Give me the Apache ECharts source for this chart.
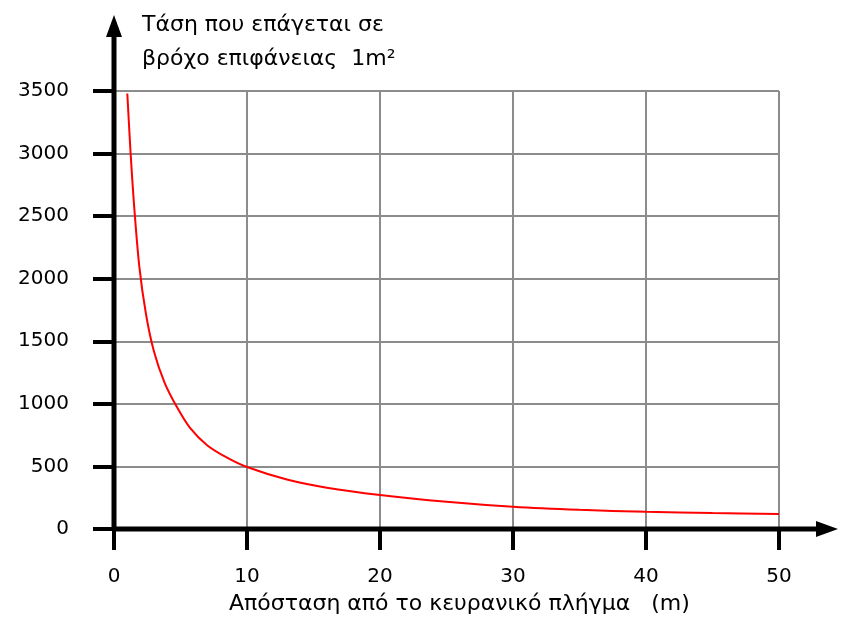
<!DOCTYPE html>
<html>
<head>
<meta charset="utf-8">
<script src="https://cdn.jsdelivr.net/npm/echarts@6/dist/echarts.min.js"></script>
<style>
  html, body { margin: 0; padding: 0; background: #fff; }
  #chart { width: 844px; height: 625px; }
</style>
</head>
<body>
<div id="chart"></div>
<script>
// απόσταση (m) και τάση που διαβάστηκαν από την εικόνα
const distance = [1, 1.25, 1.5, 1.9, 2.4, 3, 3.8, 4.7, 5.7, 7, 8.5, 10, 13, 16, 20, 25, 30, 35, 40, 45, 50];
const voltage = [3480, 3000, 2600, 2100, 1720, 1420, 1170, 980, 810, 670, 570, 495, 395, 330, 272, 218, 178, 153, 137, 127, 120];
const xTicks = [0, 10, 20, 30, 40, 50];
const yTicks = [0, 500, 1000, 1500, 2000, 2500, 3000, 3500];

const yTitle = ["Τάση που επάγεται σε", "βρόχο επιφάνειας  1m²"];
const xTitle = "Απόσταση από το κευρανικό πλήγμα   (m)";

const font = "'DejaVu Sans', sans-serif";
const chart = echarts.init(document.getElementById("chart"));

const points = distance.map((d, i) => [d, voltage[i]]);

chart.setOption({
    animation: false,
    grid: { left: 114, top: 91, right: 65, bottom: 96 },
    xAxis: {
        type: "value",
        min: xTicks[0],
        max: xTicks[xTicks.length - 1],
        interval: 10,
        axisLine: { show: false },
        axisTick: { show: true, length: 21, lineStyle: { color: "#000", width: 4 } },
        axisLabel: { margin: 38, fontFamily: font, fontSize: 20, color: "#000", formatter: v => String(v) },
        splitLine: { show: true, lineStyle: { color: "#8c8c8c", width: 2 } }
    },
    yAxis: {
        type: "value",
        min: yTicks[0],
        max: yTicks[yTicks.length - 1],
        interval: 500,
        axisLine: { show: false },
        axisTick: { show: true, length: 21, lineStyle: { color: "#000", width: 4 } },
        axisLabel: { margin: 45, fontFamily: font, fontSize: 20, color: "#000", formatter: v => String(v) },
        splitLine: { show: true, lineStyle: { color: "#8c8c8c", width: 2 } }
    },
    series: [{
        type: "line",
        data: points,
        smooth: 0.3,
        showSymbol: false,
        lineStyle: { color: "#ff0000", width: 2 },
        z: 5
    }]
});

// άξονες με βέλη, από τις θέσεις του ίδιου του γραφήματος
const origin = chart.convertToPixel({ gridIndex: 0 }, [0, 0]);
const corner = chart.convertToPixel({ gridIndex: 0 }, [50, 3500]);
const ox = origin[0], oy = origin[1];
const xEnd = corner[0] + 59;
const yEnd = corner[1] - 76;

chart.setOption({
    graphic: [
        { type: "line", shape: { x1: ox, y1: oy, x2: xEnd - 18, y2: oy }, style: { stroke: "#000", lineWidth: 5 }, z: 10 },
        { type: "polygon", shape: { points: [[xEnd, oy], [xEnd - 22, oy - 8], [xEnd - 22, oy + 8]] }, style: { fill: "#000" }, z: 10 },
        { type: "line", shape: { x1: ox, y1: oy + 2, x2: ox, y2: yEnd + 18 }, style: { stroke: "#000", lineWidth: 5 }, z: 10 },
        { type: "polygon", shape: { points: [[ox, yEnd], [ox - 8, yEnd + 22], [ox + 8, yEnd + 22]] }, style: { fill: "#000" }, z: 10 },
        {
            type: "text", left: 142, top: 8, z: 10,
            style: { text: yTitle.join("\n"), font: "22px " + font, fill: "#000", lineHeight: 34 }
        },
        {
            type: "text", left: 229, top: 593, z: 10,
            style: { text: xTitle, font: "22px " + font, fill: "#000" }
        }
    ]
});
</script>
</body>
</html>
